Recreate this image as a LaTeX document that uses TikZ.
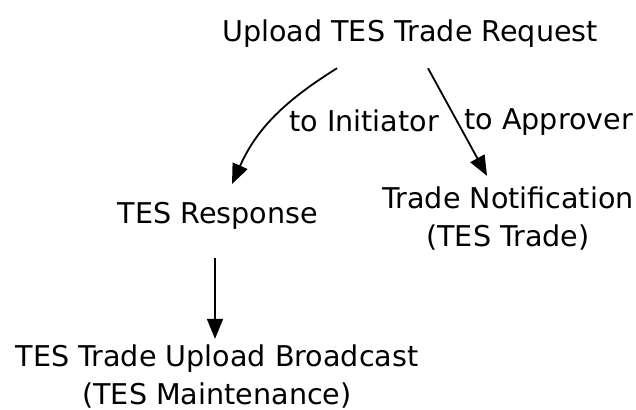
\documentclass[tikz,border=0pt]{standalone}
\usepackage{fontspec}
\setmainfont{DejaVu Sans}
\usetikzlibrary{arrows.meta}

\begin{document}
\begin{tikzpicture}[
      x=0.5pt, y=-0.5pt,
      every node/.style={inner sep=0pt, align=center, font=\fontsize{14.3pt}{19pt}\selectfont},
      link/.style={-{Triangle[length=10pt,width=8pt]}, line width=0.9pt},
      lbl/.style={anchor=west}
    ]
      \useasboundingbox (0,0) rectangle (636,410);

      % Draw the nodes, then the edges between them
      \node (req) at (410,34) {Upload TES Trade Request};
      \node (resp) at (218,216) {TES Response};
      \node (notif) at (508,219) {Trade Notification\\(TES Trade)};
      \node (bcast) at (217,377) {TES Trade Upload Broadcast\\(TES Maintenance)};

      \draw[link] ([xshift=-36.5pt,yshift=-10pt]req.south) to[out=212,in=66]
        node[lbl, pos=0.5, xshift=7pt, yshift=-2pt] {to Initiator} ([xshift=7pt,yshift=9pt]resp.north);
      \draw[link] ([xshift=9pt,yshift=-10pt]req.south) --
        node[lbl, pos=0.5, xshift=3pt] {to Approver} ([xshift=-10.5pt,yshift=5.5pt]notif.north);
      \draw[link] ([xshift=-1.5pt,yshift=-14pt]resp.south) -- ([xshift=-1pt,yshift=3pt]bcast.north);
    \end{tikzpicture}
\end{document}
